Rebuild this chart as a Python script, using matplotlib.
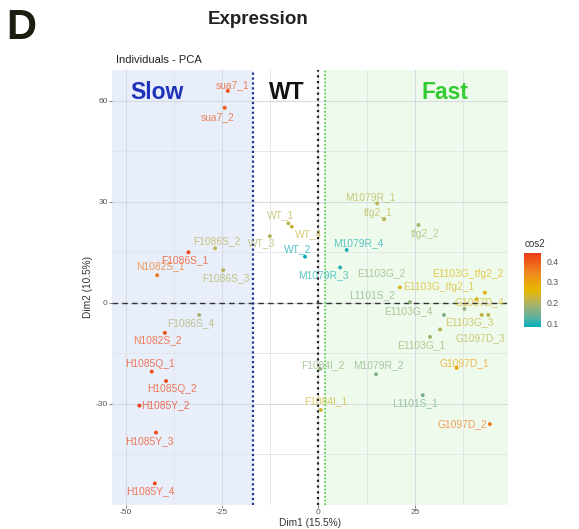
import matplotlib
matplotlib.use("Agg")
import matplotlib.pyplot as plt
from matplotlib.colors import LinearSegmentedColormap, Normalize
from matplotlib.patches import Rectangle
from matplotlib.ticker import MultipleLocator

plt.rcParams['font.family'] = ['Liberation Sans', 'DejaVu Sans']
plt.rcParams['axes.unicode_minus'] = False

# ---------------- data ----------------
names = ["sua7_1", "sua7_2", "F1086S_2", "F1086S_1", "N1082S_1", "F1086S_3",
         "F1086S_4", "N1082S_2", "H1085Q_1", "H1085Q_2", "H1085Y_2", "H1085Y_3",
         "H1085Y_4",
         "WT_1", "WT_4", "WT_3", "WT_2", "M1079R_4", "M1079R_3", "F1084I_2",
         "F1084I_1",
         "M1079R_1", "tfg2_1", "tfg2_2", "M1079R_2", "L1101S_1", "G1097D_1",
         "G1097D_2", "E1103G_tfg2_1", "E1103G_tfg2_2", "E1103G_4", "L1101S_2",
         "E1103G_2", "G1097D_4", "E1103G_3", "", "G1097D_3", "E1103G_1"]
dim1 = [-23.5, -24.3, -26.8, -33.7, -41.8, -24.7,
        -30.9, -39.8, -43.2, -39.5, -46.4, -42.1,
        -42.4,
        -7.8, -6.9, -12.6, -3.5, 7.3, 5.6, 0.4,
        0.6,
        15.2, 17.0, 25.9, 14.9, 27.0, 35.8,
        44.4, 21.1, 43.1, 23.7, 32.5,
        37.8, 41.0, 42.3, 31.5, 44.0, 28.9]
dim2 = [62.9, 57.9, 16.2, 15.0, 8.2, 9.7,
        -3.6, -8.9, -20.4, -23.2, -30.5, -38.5,
        -53.6,
        23.6, 22.6, 19.8, 13.7, 15.7, 10.5, -19.6,
        -31.8,
        29.5, 24.8, 23.1, -21.2, -27.4, -19.3,
        -36.0, 4.6, 3.0, 0.2, -3.6,
        -1.8, 1.1, -3.6, -7.9, -3.6, -10.1]
cos2 = [0.41, 0.40, 0.21, 0.42, 0.36, 0.20,
        0.19, 0.41, 0.42, 0.42, 0.44, 0.42,
        0.42,
        0.21, 0.22, 0.20, 0.09, 0.10, 0.10, 0.17,
        0.23,
        0.21, 0.21, 0.19, 0.16, 0.15, 0.30,
        0.36, 0.24, 0.25, 0.17, 0.16,
        0.17, 0.24, 0.22, 0.20, 0.21, 0.18]
cos2_ticks = [0.1, 0.2, 0.3, 0.4]
x_ticks = [-50, -25, 0, 25]
y_ticks = [-30, 0, 30, 60]
slow_limit = -17.0
fast_limit = 1.7

# label placement (pixel offsets from point, screen y down), alignment
label_layout = {
    "sua7_1": (5, -6, "center"), "sua7_2": (-7, 9, "center"),
    "F1086S_2": (2, -7, "center"), "F1086S_1": (-4, 8, "center"),
    "N1082S_1": (3, -9, "center"), "F1086S_3": (3, 8, "center"),
    "F1086S_4": (-8, 8, "center"), "N1082S_2": (-7, 7, "center"),
    "H1085Q_1": (-2, -8, "center"), "H1085Q_2": (6, 8, "center"),
    "H1085Y_2": (2, 0, "left"), "H1085Y_3": (-7, 9, "center"),
    "H1085Y_4": (-5, 8, "center"),
    "WT_1": (-8, -8, "center"), "WT_4": (17, 7, "center"),
    "WT_3": (-8, 7, "center"), "WT_2": (-7, -8, "center"),
    "M1079R_4": (12, -7, "center"), "M1079R_3": (-17, 8, "center"),
    "F1084I_2": (3, -4, "center"), "F1084I_1": (5, -9, "center"),
    "M1079R_1": (-7, -6, "center"), "tfg2_1": (-6, -6, "center"),
    "tfg2_2": (7, 9, "center"), "M1079R_2": (2, -9, "center"),
    "L1101S_1": (-8, 8, "center"), "G1097D_1": (8, -5, "center"),
    "G1097D_2": (-3, 0, "right"), "E1103G_tfg2_1": (3, 0, "left"),
    "E1103G_tfg2_2": (-17, -19, "center"), "E1103G_4": (-2, 9, "center"),
    "L1101S_2": (-72, -20, "center"), "E1103G_2": (-83, -36, "center"),
    "G1097D_4": (3, 3, "center"), "E1103G_3": (-12, 7, "center"),
    "G1097D_3": (-8, 23, "center"), "E1103G_1": (-9, 8, "center"),
}

# ---------------- figure ----------------
W, H = 579, 529
fig = plt.figure(figsize=(W / 100, H / 100), dpi=100)
L, R, T, B = 112, 508, 70, 505
ax = fig.add_axes([L / W, 1 - B / H, (R - L) / W, (B - T) / H])

xmin, xmax = -53.5, 49.1
ymin, ymax = -60.0, 69.1
ax.set_xlim(xmin, xmax)
ax.set_ylim(ymin, ymax)

# shaded regions
ax.add_patch(Rectangle((xmin, ymin), slow_limit - xmin, ymax - ymin,
                       facecolor="#e9eefb", edgecolor="none", zorder=0))
ax.add_patch(Rectangle((fast_limit, ymin), xmax - fast_limit, ymax - ymin,
                       facecolor="#eefbec", edgecolor="none", zorder=0))

# grid
ax.set_xticks(x_ticks)
ax.set_yticks(y_ticks)
ax.xaxis.set_minor_locator(MultipleLocator(12.5))
ax.yaxis.set_minor_locator(MultipleLocator(15))
ax.grid(True, which="major", color="#d5d9e0", lw=0.8, zorder=0.5)
ax.grid(True, which="minor", color="#e0e4ea", lw=0.6, zorder=0.5)
ax.set_axisbelow(True)
for s in ax.spines.values():
    s.set_visible(False)
ax.tick_params(which="major", length=2, color="#888888", labelsize=6,
               labelcolor="#555555", pad=1)
ax.tick_params(which="minor", length=0)

# reference lines
ax.axhline(0, color="#333333", lw=1.0, ls=(0, (4, 3)), zorder=2)
ax.axvline(0, color="#222222", lw=1.6, ls=(0, (1, 1.6)), zorder=2)
ax.axvline(slow_limit, color="#22339a", lw=1.6, ls=(0, (1, 1.2)), zorder=2)
ax.axvline(fast_limit, color="#44cc44", lw=1.2, ls=(0, (1, 1.2)), zorder=2)

# colormap (gradient low -> mid -> high)
vmin, vmax = 0.084, 0.44
cmap = LinearSegmentedColormap.from_list(
    "cos2", [(0.0, "#00AFBB"), (0.124, "#5FB19E"), (0.247, "#94B27A"),
             (0.37, "#C3B448"), (0.494, "#E7B800"), (0.72, "#F08A1E"),
             (1.0, "#EC3A16")])
norm = Normalize(vmin, vmax)

sc = ax.scatter(dim1, dim2, c=cos2, cmap=cmap, norm=norm, s=8,
                edgecolors="none", zorder=4)

for n, x, y, c in zip(names, dim1, dim2, cos2):
    if not n:
        continue
    dx, dy, ha = label_layout[n]
    ax.annotate(n, (x, y), xytext=(dx * 0.72, -dy * 0.72),
                textcoords="offset points", ha=ha, va="center",
                fontsize=7.4, color=cmap(norm(c)), alpha=0.72, zorder=5)

# group titles
ax.text(-48.8, 62.5, "Slow", color="#1f33b8", fontsize=16.5, fontweight="bold",
        ha="left", va="center", zorder=6)
ax.text(-8.2, 62.5, "WT", color="#111111", fontsize=16.5, fontweight="bold",
        ha="center", va="center", zorder=6)
ax.text(32.8, 62.5, "Fast", color="#33cc33", fontsize=16.5, fontweight="bold",
        ha="center", va="center", zorder=6)

ax.set_xlabel("Dim1 (15.5%)", fontsize=7.3, color="#333333", labelpad=1)
ax.set_ylabel("Dim2 (10.5%)", fontsize=7.3, color="#333333", labelpad=2)

# titles
fig.text(6 / W, 1 - 28 / H, "D", fontsize=30, fontweight="bold",
         color="#1c1c10", ha="left", va="center")
fig.text(258 / W, 1 - 20 / H, "Expression", fontsize=13.5, fontweight="bold",
         color="#222222", ha="center", va="center")
fig.text(116 / W, 1 - 60 / H, "Individuals - PCA", fontsize=8,
         color="#222222", ha="left", va="center")

# colorbar
cax = fig.add_axes([524 / W, 1 - 326.7 / H, 16.7 / W, 74 / H])
cb = fig.colorbar(sc, cax=cax, ticks=cos2_ticks)
cb.outline.set_visible(False)
cb.ax.tick_params(length=2, color="white", labelsize=6.3, labelcolor="#555555",
                  pad=2)
cb.ax.set_yticklabels([f"{t:.1f}" for t in cos2_ticks])
fig.text(525 / W, 1 - 244 / H, "cos2", fontsize=7, color="#333333",
         ha="left", va="center")

fig.savefig("out.png", dpi=100)
